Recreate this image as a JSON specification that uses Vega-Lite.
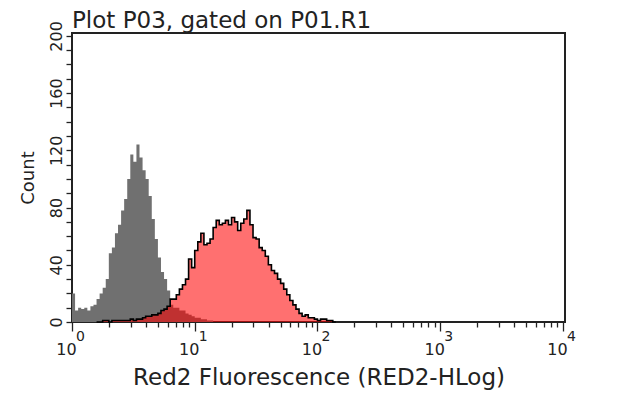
{
  "$schema": "https://vega.github.io/schema/vega-lite/v6.json",
  "width": 493,
  "height": 289,
  "autosize": {"type": "none"},
  "padding": {"left": 72, "top": 33, "right": 75, "bottom": 73},
  "background": "white",
  "title": {
    "text": "Plot P03, gated on P01.R1",
    "anchor": "start",
    "frame": "group",
    "offset": -12,
    "font": "DejaVu Sans",
    "fontSize": 23,
    "fontWeight": "normal",
    "color": "#222"
  },
  "datasets": {
    "isotype": [
      {"fluorescence": 1.0, "count": 20},
      {"fluorescence": 1.0593, "count": 8},
      {"fluorescence": 1.122, "count": 10},
      {"fluorescence": 1.1885, "count": 9},
      {"fluorescence": 1.2589, "count": 10},
      {"fluorescence": 1.3335, "count": 8},
      {"fluorescence": 1.4125, "count": 11},
      {"fluorescence": 1.4962, "count": 12},
      {"fluorescence": 1.5849, "count": 16},
      {"fluorescence": 1.6788, "count": 20},
      {"fluorescence": 1.7783, "count": 24},
      {"fluorescence": 1.8836, "count": 30},
      {"fluorescence": 1.9953, "count": 48},
      {"fluorescence": 2.1135, "count": 52},
      {"fluorescence": 2.2387, "count": 62},
      {"fluorescence": 2.3714, "count": 68},
      {"fluorescence": 2.5119, "count": 78},
      {"fluorescence": 2.6607, "count": 86},
      {"fluorescence": 2.8184, "count": 100},
      {"fluorescence": 2.9854, "count": 117},
      {"fluorescence": 3.1623, "count": 112},
      {"fluorescence": 3.3497, "count": 124},
      {"fluorescence": 3.5481, "count": 115},
      {"fluorescence": 3.7584, "count": 106},
      {"fluorescence": 3.9811, "count": 100},
      {"fluorescence": 4.217, "count": 88},
      {"fluorescence": 4.4668, "count": 72},
      {"fluorescence": 4.7315, "count": 58},
      {"fluorescence": 5.0119, "count": 45},
      {"fluorescence": 5.3088, "count": 35},
      {"fluorescence": 5.6234, "count": 30},
      {"fluorescence": 5.9566, "count": 22},
      {"fluorescence": 6.3096, "count": 12},
      {"fluorescence": 6.6834, "count": 10},
      {"fluorescence": 7.0795, "count": 10},
      {"fluorescence": 7.4989, "count": 8},
      {"fluorescence": 7.9433, "count": 8},
      {"fluorescence": 8.414, "count": 6},
      {"fluorescence": 8.9125, "count": 5},
      {"fluorescence": 9.4406, "count": 4},
      {"fluorescence": 10.0, "count": 3},
      {"fluorescence": 10.593, "count": 3},
      {"fluorescence": 11.22, "count": 2},
      {"fluorescence": 11.885, "count": 2},
      {"fluorescence": 12.589, "count": 1},
      {"fluorescence": 13.335, "count": 1},
      {"fluorescence": 14.125, "count": 0}
    ],
    "stained": [
      {"fluorescence": 1.5849, "count": 0},
      {"fluorescence": 1.6788, "count": 0},
      {"fluorescence": 1.7783, "count": 1},
      {"fluorescence": 1.8836, "count": 1},
      {"fluorescence": 1.9953, "count": 0},
      {"fluorescence": 2.1135, "count": 1},
      {"fluorescence": 2.2387, "count": 1},
      {"fluorescence": 2.3714, "count": 1},
      {"fluorescence": 2.5119, "count": 1},
      {"fluorescence": 2.6607, "count": 1},
      {"fluorescence": 2.8184, "count": 1},
      {"fluorescence": 2.9854, "count": 2},
      {"fluorescence": 3.1623, "count": 1},
      {"fluorescence": 3.3497, "count": 2},
      {"fluorescence": 3.5481, "count": 2},
      {"fluorescence": 3.7584, "count": 3},
      {"fluorescence": 3.9811, "count": 4},
      {"fluorescence": 4.217, "count": 4},
      {"fluorescence": 4.4668, "count": 5},
      {"fluorescence": 4.7315, "count": 5},
      {"fluorescence": 5.0119, "count": 6},
      {"fluorescence": 5.3088, "count": 8},
      {"fluorescence": 5.6234, "count": 9},
      {"fluorescence": 5.9566, "count": 11},
      {"fluorescence": 6.3096, "count": 16},
      {"fluorescence": 6.6834, "count": 16},
      {"fluorescence": 7.0795, "count": 19},
      {"fluorescence": 7.4989, "count": 23},
      {"fluorescence": 7.9433, "count": 26},
      {"fluorescence": 8.414, "count": 30},
      {"fluorescence": 8.9125, "count": 44},
      {"fluorescence": 9.4406, "count": 38},
      {"fluorescence": 10.0, "count": 50},
      {"fluorescence": 10.593, "count": 56},
      {"fluorescence": 11.22, "count": 62},
      {"fluorescence": 11.885, "count": 54},
      {"fluorescence": 12.589, "count": 55},
      {"fluorescence": 13.335, "count": 58},
      {"fluorescence": 14.125, "count": 66},
      {"fluorescence": 14.962, "count": 71},
      {"fluorescence": 15.849, "count": 68},
      {"fluorescence": 16.788, "count": 69},
      {"fluorescence": 17.783, "count": 71},
      {"fluorescence": 18.836, "count": 68},
      {"fluorescence": 19.953, "count": 73},
      {"fluorescence": 21.135, "count": 70},
      {"fluorescence": 22.387, "count": 64},
      {"fluorescence": 23.714, "count": 69},
      {"fluorescence": 25.119, "count": 72},
      {"fluorescence": 26.607, "count": 78},
      {"fluorescence": 28.184, "count": 68},
      {"fluorescence": 29.854, "count": 59},
      {"fluorescence": 31.623, "count": 58},
      {"fluorescence": 33.497, "count": 52},
      {"fluorescence": 35.481, "count": 50},
      {"fluorescence": 37.584, "count": 46},
      {"fluorescence": 39.811, "count": 40},
      {"fluorescence": 42.17, "count": 36},
      {"fluorescence": 44.668, "count": 34},
      {"fluorescence": 47.315, "count": 30},
      {"fluorescence": 50.119, "count": 27},
      {"fluorescence": 53.088, "count": 23},
      {"fluorescence": 56.234, "count": 19},
      {"fluorescence": 59.566, "count": 15},
      {"fluorescence": 63.096, "count": 12},
      {"fluorescence": 66.834, "count": 9},
      {"fluorescence": 70.795, "count": 6},
      {"fluorescence": 74.989, "count": 4},
      {"fluorescence": 79.433, "count": 5},
      {"fluorescence": 84.14, "count": 3},
      {"fluorescence": 89.125, "count": 3},
      {"fluorescence": 94.406, "count": 2},
      {"fluorescence": 100.0, "count": 1},
      {"fluorescence": 105.93, "count": 2},
      {"fluorescence": 112.2, "count": 2},
      {"fluorescence": 118.85, "count": 1},
      {"fluorescence": 125.89, "count": 1},
      {"fluorescence": 133.35, "count": 0},
      {"fluorescence": 141.25, "count": 0}
    ]
  },
  "encoding": {
    "y": {
      "field": "count",
      "type": "quantitative",
      "scale": {"domain": [0, 202], "nice": false},
      "axis": {
        "title": "Count",
        "values": [0, 10, 20, 30, 40, 50, 60, 70, 80, 90, 100, 110, 120, 130, 140, 150, 160, 170, 180, 190, 200],
        "labelExpr": "datum.value % 40 == 0 ? datum.label : ''",
        "labelAngle": -90,
        "labelAlign": "center",
        "labelBaseline": "middle",
        "labelPadding": 10,
        "labelOverlap": false,
        "labelFlush": false,
        "labelFontSize": 16,
        "tickSize": 6,
        "titleFontSize": 18,
        "titlePadding": 11
      }
    }
  },
  "layer": [
    {
      "data": {"name": "isotype"},
      "mark": {"type": "area", "interpolate": "step-after", "color": "#707070"},
      "encoding": {
        "x": {
          "field": "fluorescence",
          "type": "quantitative",
          "scale": {"type": "log", "domain": [1, 10400], "nice": false},
          "axis": {
            "orient": "bottom",
            "title": "Red2 Fluorescence (RED2-HLog)",
            "values": [1, 2, 3, 4, 5, 6, 7, 8, 9, 10, 20, 30, 40, 50, 60, 70, 80, 90, 100, 200, 300, 400, 500, 600, 700, 800, 900, 1000, 2000, 3000, 4000, 5000, 6000, 7000, 8000, 9000, 10000],
            "labelExpr": "indexof([1,10,100,1000,10000], datum.value) >= 0 ? '10' : ''",
            "tickSize": {"condition": {"test": "indexof([1,10,100,1000,10000], datum.value) >= 0", "value": 9}, "value": 5},
            "labelOverlap": false,
            "labelFlush": false,
            "labelFontSize": 16,
            "labelOffset": -6,
            "labelPadding": 10,
            "titleFontSize": 23,
            "titlePadding": 9
          }
        }
      }
    },
    {
      "data": {"name": "stained"},
      "mark": {"type": "area", "interpolate": "step-after", "color": "#ff0000", "fillOpacity": 0.56},
      "encoding": {
        "x": {
          "field": "fluorescence",
          "type": "quantitative",
          "scale": {"type": "log", "domain": [1, 10400], "nice": false},
          "axis": {
            "orient": "bottom",
            "title": null,
            "values": [1, 10, 100, 1000, 10000],
            "labelExpr": "datum.value == 1 ? '0' : datum.value == 10 ? '1' : datum.value == 100 ? '2' : datum.value == 1000 ? '3' : '4'",
            "ticks": false,
            "labelOverlap": false,
            "labelFlush": false,
            "labelFontSize": 14,
            "labelOffset": 8,
            "labelPadding": 7
          }
        }
      }
    },
    {
      "data": {"name": "stained"},
      "mark": {"type": "line", "interpolate": "step-after", "color": "#000000", "strokeWidth": 1.6},
      "encoding": {
        "x": {
          "field": "fluorescence",
          "type": "quantitative",
          "scale": {"type": "log", "domain": [1, 10400], "nice": false},
          "axis": null
        }
      }
    }
  ],
  "resolve": {"axis": {"x": "independent"}},
  "config": {
    "view": {"stroke": "#222", "strokeWidth": 2},
    "axis": {
      "labelFont": "DejaVu Sans",
      "titleFont": "DejaVu Sans",
      "labelColor": "#222",
      "titleColor": "#222",
      "tickColor": "#222",
      "tickWidth": 1.3,
      "titleFontWeight": "normal",
      "grid": false,
      "domain": false
    }
  }
}
